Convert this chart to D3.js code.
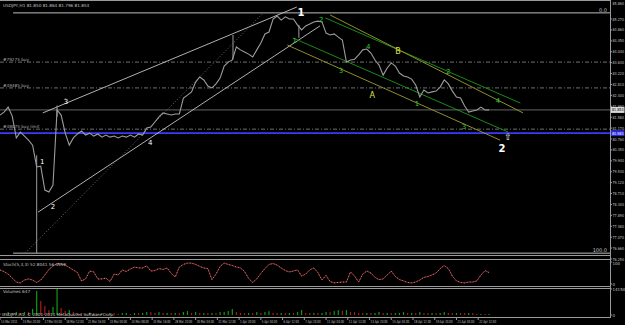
<!DOCTYPE html>
<html>
<head>
<meta charset="utf-8">
<script src="https://cdn.jsdelivr.net/npm/d3@7"></script>
<style>
  html, body { margin: 0; padding: 0; background: #000; }
  svg { display: block; }
  text { font-family: "DejaVu Sans", sans-serif; }
</style>
</head>
<body>
<svg id="chart" width="625" height="325"></svg>
<script>
// USDJPY H1, one sample every 6 bars
const STEP = 6;
const closes = [
  81.66, 81.77, 81.96, 81.62, 80.80, 81.02, 80.87, 80.72, 80.53, 79.71,
  79.74, 78.84, 78.77, 79.03, 81.85, 81.66, 80.98, 80.53, 80.80, 80.95,
  81.06, 80.91, 80.98, 80.87, 80.95, 80.83, 80.91, 80.83, 80.87, 80.80,
  80.87, 80.83, 80.91, 80.83, 80.95, 80.91, 81.17, 81.21, 81.40, 81.59,
  81.74, 81.70, 81.66, 81.70, 81.70, 82.30, 82.41, 82.53, 82.90, 83.09,
  82.98, 82.75, 82.68, 82.83, 83.05, 83.50, 83.65, 83.73, 84.22, 84.11,
  84.03, 83.95, 83.84, 84.11, 84.37, 84.71, 84.78, 85.27, 85.38, 85.23,
  85.35, 85.27, 85.27, 85.04, 84.86, 85.01, 85.08, 85.16, 85.19, 85.16,
  84.74, 84.67, 84.71, 84.59, 84.48, 83.65, 83.73, 83.76, 83.92, 84.11,
  84.14, 83.99, 83.73, 83.54, 83.16, 83.43, 83.62, 83.50, 83.24, 83.13,
  83.09, 83.01, 82.79, 82.34, 82.60, 82.49, 82.53, 82.56, 82.71, 82.98,
  82.83, 82.56, 82.34, 82.30, 82.00, 81.77, 81.81, 81.85, 81.96, 81.85,
  81.853
];
// [bar, high, low] for the long single-bar wicks
const wicks = [[54, 80.15, 76.47], [343, 84.67, 83.75], [440, 85.05, 84.56], [84, 82.02, 81.6]];

const stoch = [
  64, 56, 45, 27, 9, 5, 18, 23, 18, 7,
  18, 41, 66, 82, 93, 91, 86, 75, 64, 52,
  14, 23, 59, 55, 23, 23, 27, 11, 45, 41,
  64, 57, 68, 77, 73, 73, 82, 59, 61, 70,
  66, 73, 48, 32, 77, 89, 95, 95, 89, 80,
  73, 70, 20, 45, 80, 95, 89, 84, 77, 73,
  57, 25, 7, 23, 48, 70, 89, 93, 86, 73,
  61, 55, 59, 64, 36, 45, 64, 73, 52, 18,
  39, 11, 5, 7, 9, 9, 55, 36, 9, 45,
  59, 50, 30, 20, 23, 41, 59, 34, 20, 14,
  7, 5, 9, 18, 30, 34, 41, 50, 70, 84,
  70, 36, 14, 7, 5, 9, 9, 14, 41, 61,
  52
];

const volumes = [
  1100, 1050, 1620, 1150, 1700, 1080, 1640, 1580, 3300, 13050,
  7600, 4900, 2700, 4400, 14150, 3800, 2200, 2700, 1650, 1100,
  1050, 620, 1120, 1060, 580, 1090, 640, 1130, 1070, 600,
  1080, 1150, 560, 1100, 1040, 1160, 1650, 1580, 1120, 1600,
  1090, 1130, 1070, 1100, 1060, 1680, 2150, 1120, 1600, 1080,
  1110, 1050, 1140, 1090, 1620, 1700, 2200, 3250, 1650, 1100,
  1070, 1130, 1090, 1660, 1120, 1580, 2100, 1150, 1080, 1120,
  1060, 1110, 1090, 1650, 2700, 1120, 1080, 1130, 1050, 1100,
  1640, 1590, 2150, 2650, 2200, 2700, 1620, 1580, 1100, 1070,
  1130, 1090, 1110, 1650, 1080, 1120, 1060, 1100, 1140, 1600,
  1090, 1130, 1070, 1620, 1100, 1060, 1120, 1080, 1110, 1650,
  1100, 1070, 1130, 1090, 1060, 1120, 1080, 560, 600, 540,
  580
];

const priceTicks = [85.27, 84.86, 84.45, 84.04, 83.63, 83.22, 82.81, 82.40, 81.99, 81.58,
  81.17, 80.76, 80.35, 79.94, 79.53, 79.12, 78.71, 78.30, 77.89, 77.48, 77.07, 76.66, 76.25];
const priceTop = 85.86;
const timeLabels = ['14 Mar 2011', '15 Mar 20:00', '17 Mar 04:00', '18 Mar 12:00', '21 Mar 16:00',
  '23 Mar 00:00', '24 Mar 08:00', '25 Mar 16:00', '28 Mar 20:00', '30 Mar 04:00', '31 Mar 12:00',
  '1 Apr 20:00', '5 Apr 04:00', '6 Apr 12:00', '7 Apr 20:00', '11 Apr 04:00', '12 Apr 12:00',
  '13 Apr 20:00', '15 Apr 04:00', '18 Apr 12:00', '19 Apr 20:00', '21 Apr 04:00', '22 Apr 12:00'];
const TIME_EVERY = 32;

// [bar1, price1, bar2, price2]
const whiteLines = [[63, 81.74, 437, 85.72], [56, 78.01, 471, 85.01]];
const fibDiagonal = [37, 76.47, 386, 85.46];
const greenLines = [[479, 85.31, 766, 82.11], [431, 84.56, 748, 81.02]];
const yellowLines = [[486, 85.42, 770, 81.74], [423, 84.29, 736, 80.72]];

const fibLevels = [['0.0', 85.50], ['100.0', 76.47]];
const fibStartBar = 37;
const orderLines = [['#79275 buy', 83.65], ['#49485 buy', 82.68], ['#48075 buy limit', 81.13]];
const bidPrice = 81.853;
const blueLevel = 80.98;

const bigLabels = [['1', 443, 85.53], ['2', 739, 80.42]];
const smallLabels = [['1', 62, 79.89], ['2', 78, 78.20], ['3', 97, 82.15], ['4', 221, 80.61]];
const greenLabels = [['1', 434, 84.44], ['2', 473, 85.23], ['3', 502, 83.31], ['4', 542, 84.22],
  ['1', 614, 82.07], ['2', 660, 83.28], ['3', 683, 81.21], ['4', 733, 82.19]];
const yellowLabels = [['A', 548, 82.41], ['B', 586, 84.03]];
const arrowMark = [748, 80.83];

const title = 'USDJPY,H1  81.850 81.864 81.796 81.853';
const stochTitle = 'Stoch(5,3,3) 52.8041 56.4959';
const volTitle = 'Volumes 647';
const copyright = 'USDJPY,H1, © 2001-2011 MetaQuotes Software Corp.';

const W = 625, H = 325, AX = 610;
const svg = d3.select('#chart');
svg.append('rect').attr('width', W).attr('height', H).attr('fill', '#000');

const x = d3.scaleLinear().domain([0, 898]).range([0, AX]);
const y = d3.scaleLinear().domain([76.25, 85.27]).range([259, 19]);
const ys = d3.scaleLinear().domain([0, 100]).range([284, 262]);
const yv = d3.scaleLinear().domain([0, 14150]).range([315, 289]);

const grid = '#9a9a9a';
const txt = '#c0c0c0';

svg.append('clipPath').attr('id', 'mainClip')
  .append('rect').attr('x', 0).attr('y', 0).attr('width', AX).attr('height', 255);
const main = svg.append('g').attr('clip-path', 'url(#mainClip)');

// fib levels
fibLevels.forEach(([lab, p]) => {
  main.append('line').attr('x1', x(fibStartBar) - 12).attr('x2', AX)
    .attr('y1', y(p)).attr('y2', y(p)).attr('stroke', '#bdbdbd').attr('stroke-width', 1);
  svg.append('text').attr('x', AX - 3).attr('y', y(p) - 1).attr('text-anchor', 'end')
    .attr('font-size', 5).attr('fill', txt).text(lab);
});

// order lines
orderLines.forEach(([lab, p]) => {
  main.append('line').attr('x1', 0).attr('x2', AX).attr('y1', y(p)).attr('y2', y(p))
    .attr('stroke', '#8c8c8c').attr('stroke-width', 0.8).attr('stroke-dasharray', '4,2,1,2');
  svg.append('text').attr('x', 3).attr('y', y(p) - 1)
    .attr('font-size', 4.2).attr('fill', '#a8a8a8').text(lab);
});

// bid line
main.append('line').attr('x1', 0).attr('x2', AX).attr('y1', y(bidPrice)).attr('y2', y(bidPrice))
  .attr('stroke', '#808080').attr('stroke-width', 0.8);

// blue level
main.append('line').attr('x1', 0).attr('x2', AX).attr('y1', y(blueLevel)).attr('y2', y(blueLevel))
  .attr('stroke', '#3a3aff').attr('stroke-width', 1.6);

function seg(g, d, color, width, dash) {
  g.append('line').attr('x1', x(d[0])).attr('y1', y(d[1])).attr('x2', x(d[2])).attr('y2', y(d[3]))
    .attr('stroke', color).attr('stroke-width', width).attr('stroke-dasharray', dash || null);
}
whiteLines.forEach(d => seg(main, d, '#c4c4c4', 0.9));
seg(main, fibDiagonal, '#8a8a8a', 0.8, '1,2');
greenLines.forEach(d => seg(main, d, '#1c9a1c', 0.9));
yellowLines.forEach(d => seg(main, d, '#9e9e30', 0.9));

// price
const priceLine = d3.line().x((d, i) => x(i * STEP)).y(d => y(d));
main.append('path').datum(closes).attr('d', priceLine)
  .attr('fill', 'none').attr('stroke', '#9c9c9c').attr('stroke-width', 1.1);
main.selectAll('.wick').data(wicks).join('line').attr('class', 'wick')
  .attr('x1', d => x(d[0])).attr('x2', d => x(d[0]))
  .attr('y1', d => y(d[1])).attr('y2', d => y(d[2]))
  .attr('stroke', '#9c9c9c').attr('stroke-width', 1);

// wave labels
function labels(data, color, size, weight) {
  svg.append('g').selectAll('text').data(data).join('text')
    .attr('x', d => x(d[1])).attr('y', d => y(d[2]))
    .attr('text-anchor', 'middle').attr('dominant-baseline', 'central')
    .attr('font-size', size).attr('font-weight', weight).attr('fill', color)
    .text(d => d[0]);
}
labels(bigLabels, '#ffffff', 10, 'bold');
labels(smallLabels, '#ffffff', 7, 'normal');
labels(greenLabels, '#33cc33', 7, 'normal');
labels(yellowLabels, '#e0e040', 8, 'normal');
svg.append('text').attr('x', x(arrowMark[0])).attr('y', y(arrowMark[1]))
  .attr('text-anchor', 'middle').attr('dominant-baseline', 'central')
  .attr('font-size', 9).attr('fill', '#ffffff').text('⇧');

svg.append('text').attr('x', 3).attr('y', 7).attr('font-size', 4.2).attr('fill', txt).text(title);

// stochastic
const stochLine = d3.line().x((d, i) => x(i * STEP)).y(d => ys(d));
svg.append('path').datum(stoch).attr('d', stochLine)
  .attr('fill', 'none').attr('stroke', '#8c2222').attr('stroke-width', 1);
svg.append('path').datum(stoch).attr('d', stochLine)
  .attr('fill', 'none').attr('stroke', '#d8d8d8').attr('stroke-width', 0.6).attr('stroke-dasharray', '1,2');
svg.append('text').attr('x', 3).attr('y', 266).attr('font-size', 4.2).attr('fill', txt).text(stochTitle);

// volumes
svg.append('g').selectAll('rect').data(volumes).join('rect')
  .attr('x', (d, i) => x(i * STEP) - 0.6).attr('width', 1.2)
  .attr('y', d => yv(d)).attr('height', d => yv(0) - yv(d))
  .attr('fill', (d, i) => i > 0 && d > volumes[i - 1] ? '#109a10' : '#a81c1c');
svg.append('text').attr('x', 3).attr('y', 293).attr('font-size', 4.2).attr('fill', txt).text(volTitle);
svg.append('text').attr('x', 2).attr('y', 316).attr('font-size', 4.2).attr('fill', '#c8c8c8').text(copyright);

// panel borders
[[0.5], [255.5], [259.5], [286.5], [288.5], [317.5]].forEach(([yy]) => {
  svg.append('line').attr('x1', 0).attr('x2', AX).attr('y1', yy).attr('y2', yy)
    .attr('stroke', grid).attr('stroke-width', 1);
});
svg.append('line').attr('x1', AX + 0.5).attr('x2', AX + 0.5).attr('y1', 0).attr('y2', 318)
  .attr('stroke', grid).attr('stroke-width', 1);

// price axis
const pa = svg.append('g');
pa.selectAll('line').data(priceTicks).join('line')
  .attr('x1', AX).attr('x2', AX + 2).attr('y1', d => y(d)).attr('y2', d => y(d)).attr('stroke', grid);
pa.selectAll('text').data(priceTicks).join('text')
  .attr('x', AX + 2.5).attr('y', d => y(d)).attr('dominant-baseline', 'central')
  .attr('font-size', 4).attr('textLength', 11.5).attr('lengthAdjust', 'spacingAndGlyphs')
  .attr('fill', txt).text(d => d.toFixed(3));
svg.append('text').attr('x', AX + 2.5).attr('y', y(priceTop)).attr('dominant-baseline', 'central')
  .attr('font-size', 4).attr('textLength', 11.5).attr('lengthAdjust', 'spacingAndGlyphs')
  .attr('fill', txt).text(priceTop.toFixed(3));

function priceBox(p, bg, fg) {
  svg.append('rect').attr('x', AX + 1).attr('y', y(p) - 3).attr('width', 13.5).attr('height', 6).attr('fill', bg);
  svg.append('text').attr('x', AX + 2).attr('y', y(p)).attr('dominant-baseline', 'central')
    .attr('font-size', 4).attr('textLength', 11.5).attr('lengthAdjust', 'spacingAndGlyphs')
    .attr('fill', fg).text(p.toFixed(3));
}
priceBox(bidPrice, '#d8d8d8', '#000');
priceBox(blueLevel, '#2a2ad8', '#fff');

// sub-panel axes
[[ys, 100, '100'], [ys, 0, '0'], [yv, 14150, '14150'], [yv, 0, '0']].forEach(([s, v, lab]) => {
  svg.append('line').attr('x1', AX).attr('x2', AX + 2).attr('y1', s(v)).attr('y2', s(v)).attr('stroke', grid);
  svg.append('text').attr('x', AX + 2.5).attr('y', s(v) + (v === 100 ? 1.5 : 0)).attr('dominant-baseline', 'central')
    .attr('font-size', 4).attr('fill', txt).text(lab);
});

// time axis
const ta = svg.append('g');
ta.selectAll('line').data(timeLabels).join('line')
  .attr('x1', (d, i) => x(i * TIME_EVERY)).attr('x2', (d, i) => x(i * TIME_EVERY))
  .attr('y1', 318).attr('y2', 320).attr('stroke', grid);
ta.selectAll('text').data(timeLabels).join('text')
  .attr('transform', (d, i) => `translate(${x(i * TIME_EVERY) + 1},322.5) scale(0.62,1)`)
  .attr('font-size', 4.2)
  .attr('fill', txt).text(d => d);
</script>
</body>
</html>
